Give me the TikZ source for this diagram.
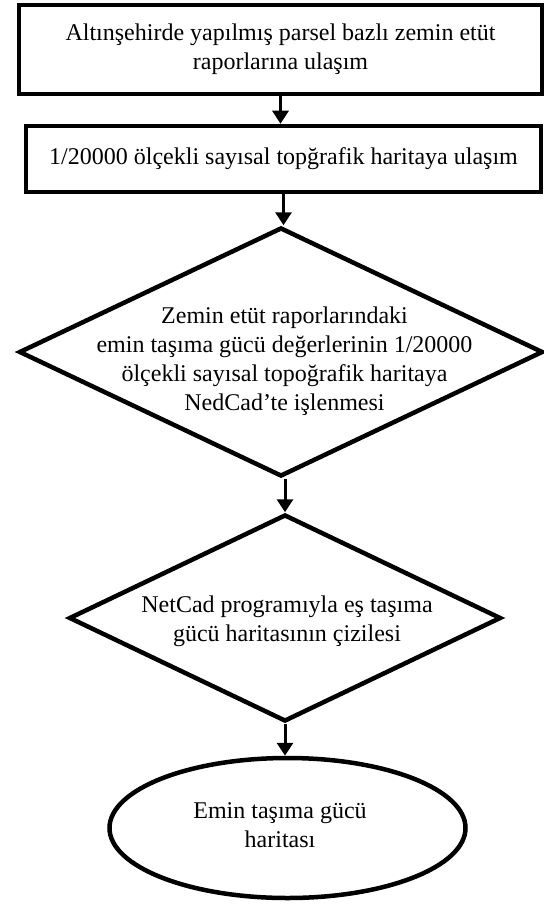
\documentclass[tikz,border=0pt]{standalone}
\usepackage{fontspec}
\setmainfont{Liberation Serif}
\usetikzlibrary{shapes.geometric,arrows.meta}
\tikzset{>={Triangle[width=8pt,length=6.5pt]}}
\tikzset{
  stepbox/.style={draw,rectangle,line width=2.25pt,inner sep=0pt,align=center},
  decision/.style={draw,diamond,line width=2.25pt,inner sep=0pt},
  result/.style={draw,ellipse,line width=2.25pt,inner sep=0pt},
  flow/.style={->,line width=1.5pt},
  every label/.style={align=center}
}

\begin{document}
\begin{tikzpicture}[x=0.5pt,y=-0.5pt,font=\fontsize{12pt}{14.5pt}\selectfont]
\useasboundingbox (0,0) rectangle (544,904);
\node[stepbox,minimum width=261.5pt,minimum height=44.5pt] (rapor) at (280.5,49.5) {Altınşehirde yapılmış parsel bazlı zemin etüt\\raporlarına ulaşım};
\node[stepbox,minimum width=257.5pt,minimum height=33pt] (harita) at (283.5,159) {1/20000 ölçekli sayısal topğrafik haritaya ulaşım};
\node[decision,minimum width=262pt,minimum height=124.5pt,
  label={[xshift=1.75pt,yshift=-4.5pt]center:Zemin etüt raporlarındaki\\emin taşıma gücü değerlerinin 1/20000\\ölçekli sayısal topoğrafik haritaya\\NedCad’te işlenmesi}] (islem) at (281,352) {};
\node[decision,minimum width=216pt,minimum height=103.5pt,
  label={[xshift=1pt,yshift=-1.5pt]center:NetCad programıyla eş taşıma\\gücü haritasının çizilesi}] (cizim) at (285,618) {};
\node[result,minimum width=178pt,minimum height=70pt,
  label={[xshift=-3.75pt,yshift=1.5pt]center:Emin taşıma gücü\\haritası}] (sonuc) at (287.5,828) {};
% arrows between steps
\draw[flow] (rapor.south) -- (rapor.south |- harita.north);
\draw[flow] (harita.south) -- (harita.south |- islem.north);
\draw[flow] (islem.south -| cizim.north) -- (cizim.north);
\draw[flow] (cizim.south) -- (cizim.south |- sonuc.north);
\end{tikzpicture}
\end{document}
